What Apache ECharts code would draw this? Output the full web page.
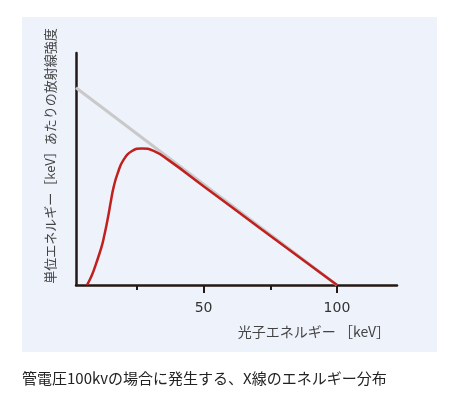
<!DOCTYPE html>
<html>
<head>
<meta charset="utf-8">
<script src="https://cdn.jsdelivr.net/npm/echarts@6/dist/echarts.min.js"></script>
<style>
html,body{margin:0;padding:0;background:#fff;}
#c{width:453px;height:394px;}
</style>
</head>
<body>
<div id="c"></div>
<script>
// Data
const energyRed = [6.3, 7.5, 8.5, 9.4, 10.6, 11.9, 12.8, 13.6, 14.4, 15.2, 16.3, 17.8, 20.0, 23.2, 26.9, 31.3, 36.9, 50, 71.3, 100];
const intensityRed = [0, 3.0, 6.0, 9.3, 14.0, 19.5, 24.5, 29.5, 35.0, 41.0, 48.5, 55.3, 62.0, 66.4, 67.7, 66.5, 61.9, 49, 28, 0];
const energyGrey = [2.2, 100];
const intensityGrey = [97.8, 0];
const minorTicks = [25, 75];
const majorTicks = [50, 100];
const xTitle = '光子エネルギー ［keV］';
const yTitle = '単位エネルギー［keV］あたりの放射線強度';
const caption = '管電圧100kvの場合に発生する、X線のエネルギー分布';

const redData = energyRed.map((e, i) => [e, intensityRed[i]]);
const greyData = energyGrey.map((e, i) => [e, intensityGrey[i]]);

const font = '"Noto Sans CJK JP", "Noto Sans", sans-serif';
const axisColor = '#231815';

const chart = echarts.init(document.getElementById('c'), null, {renderer: 'canvas'});
chart.setOption({
  animation: false,
  backgroundColor: '#ffffff',
  grid: {left: 76, right: 56, top: 53, bottom: 109},
  xAxis: [
    {
      type: 'value', min: 2.2, max: 122.5, position: 'bottom',
      axisLine: {show: true, onZero: false, lineStyle: {color: axisColor, width: 2.5}},
      axisTick: {show: true, customValues: minorTicks, length: 5, lineStyle: {color: axisColor, width: 2}},
      axisLabel: {show: false},
      splitLine: {show: false}
    },
    {
      type: 'value', min: 2.2, max: 122.5, position: 'bottom',
      axisLine: {show: false},
      axisTick: {show: true, customValues: majorTicks, length: 8, lineStyle: {color: axisColor, width: 2}},
      axisLabel: {show: true, customValues: majorTicks, margin: 16, fontSize: 14, color: '#333', fontFamily: '"DejaVu Sans", sans-serif'},
      splitLine: {show: false}
    }
  ],
  yAxis: {
    type: 'value', min: 0, max: 115,
    axisLine: {show: true, onZero: false, lineStyle: {color: axisColor, width: 2.5}},
    axisTick: {show: false},
    axisLabel: {show: false},
    splitLine: {show: false}
  },
  graphic: [
    {type: 'rect', z: -10, shape: {x: 22, y: 17, width: 415, height: 335}, style: {fill: '#eef3fb'}, silent: true},
    {type: 'text', x: 390, y: 332, style: {text: xTitle, font: '14px ' + font, fill: '#444', align: 'right', verticalAlign: 'middle'}},
    {type: 'text', x: 50, y: 156, rotation: Math.PI / 2, style: {text: yTitle, font: '13px ' + font, fill: '#444', align: 'center', verticalAlign: 'middle'}},
    {type: 'text', x: 22, y: 378, style: {text: caption, font: '15px ' + font, fill: '#222', align: 'left', verticalAlign: 'middle'}}
  ],
  series: [
    {
      type: 'line', data: greyData, showSymbol: false, z: 1,
      lineStyle: {color: '#c9c9c9', width: 3}
    },
    {
      type: 'line', data: redData, showSymbol: false, smooth: 0.5, z: 2,
      lineStyle: {color: '#c0201e', width: 2.5}
    }
  ]
});
</script>
</body>
</html>
